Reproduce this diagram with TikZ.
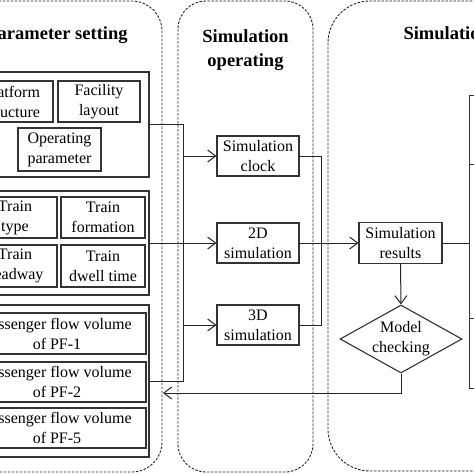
\documentclass[tikz,border=0pt]{standalone}
\usepackage{fontspec}
\setmainfont{Liberation Serif}
\usetikzlibrary{shapes.geometric,arrows.meta}
\begin{document}
\begin{tikzpicture}[x=1pt,y=-1pt,
  box/.style={draw=black!80, line width=1.1pt, fill=white, align=center,
    font=\fontsize{16}{20}\selectfont, inner sep=0pt},
  grp/.style={draw=black!80, line width=1.1pt, fill=white, inner sep=0pt},
  panel/.style={draw=black!85, line width=0.9pt, dash pattern=on 2.5pt off 1.5pt},
  ttl/.style={font=\fontsize{18.5}{24}\selectfont\bfseries, align=center},
  conn/.style={draw=black!85, line width=1pt},
  arr/.style={conn, -{Straight Barb[length=8pt,width=12pt]}}]
\useasboundingbox (0,0) rectangle (474,474);
\clip (0,0) rectangle (474,474);
% panels
\draw[panel, rounded corners=30pt] (-48,1) rectangle (162,472);
\draw[panel, rounded corners=28pt] (178,1) rectangle (313,472);
\draw[panel, rounded corners=42pt] (328,1) rectangle (560,471);
% titles
\node[ttl] (t1) at (57,35) {Parameter setting};
\node[ttl] (t2) at (245.5,50) {Simulation\\operating};
\node[ttl, anchor=west] (t3) at (400,33) {Simulation evaluation};
% groups
\node[grp, minimum width=189, minimum height=105] (g1) at (54.5,124.5) {};
\node[grp, minimum width=189, minimum height=104] (g2) at (54.5,243) {};
\node[grp, minimum width=189, minimum height=152] (g3) at (54.5,381) {};
% inner boxes
\node[box, minimum width=82, minimum height=41] (plat) at (12,101.5) {Platform\\structure};
\node[box, minimum width=82, minimum height=41] (fac) at (99,101.5) {Facility\\layout};
\node[box, minimum width=83, minimum height=43] (op) at (59.5,149.5) {Operating\\parameter};
\node[box, minimum width=84, minimum height=41] (ttype) at (15,217.5) {Train\\type};
\node[box, minimum width=84, minimum height=41] (tform) at (103,217.5) {Train\\formation};
\node[box, minimum width=84, minimum height=42] (thead) at (15,266) {Train\\headway};
\node[box, minimum width=84, minimum height=42] (tdwell) at (103,266) {Train\\dwell time};
\node[box, minimum width=178, minimum height=41] (pf1) at (57,333.5) {Passenger flow volume\\of PF-1};
\node[box, minimum width=178, minimum height=40] (pf2) at (57,382) {Passenger flow volume\\of PF-2};
\node[box, minimum width=178, minimum height=40] (pf5) at (57,428) {Passenger flow volume\\of PF-5};
% middle
\node[box, minimum width=82, minimum height=40] (clk) at (258,156) {Simulation\\clock};
\node[box, minimum width=82, minimum height=40] (d2) at (258,243) {2D\\simulation};
\node[box, minimum width=82, minimum height=40] (d3) at (258,325) {3D\\simulation};
% right
\node[box, minimum width=83, minimum height=41] (res) at (400.5,243) {Simulation\\results};
\node[box, shape=diamond, aspect=1.8, minimum width=122, minimum height=68] (chk) at (401,339) {Model\\checking};
\node[grp, minimum width=60, minimum height=69, anchor=north west] (r1) at (469,95) {};
\node[grp, minimum width=60, minimum height=154, anchor=north west] (r2) at (469,164) {};
\node[grp, minimum width=60, minimum height=70, anchor=north west] (r3) at (469,318) {};
% junction coordinates
\coordinate (j1) at (183,0);
\coordinate (j2) at (321,0);
\coordinate (back) at (163,393);
% connectors
\draw[conn] (g1.east) -- (g1.east -| j1) -- (g3.east -| j1) -- (g3.east);
\draw[arr] (clk.west -| j1) -- (clk.west);
\draw[arr] (d3.west -| j1) -- (d3.west);
\draw[arr] (g2.east) -- (d2.west);
\draw[conn] (clk.east) -- (clk.east -| j2) -- (d3.east -| j2) -- (d3.east);
\draw[arr] (d2.east) -- (res.west);
\draw[arr] (res.south) -- (chk.north);
\draw[arr] (chk.south) |- (back);
\draw[conn] (res.east) -- (res.east -| r2.west);
\end{tikzpicture}
\end{document}
